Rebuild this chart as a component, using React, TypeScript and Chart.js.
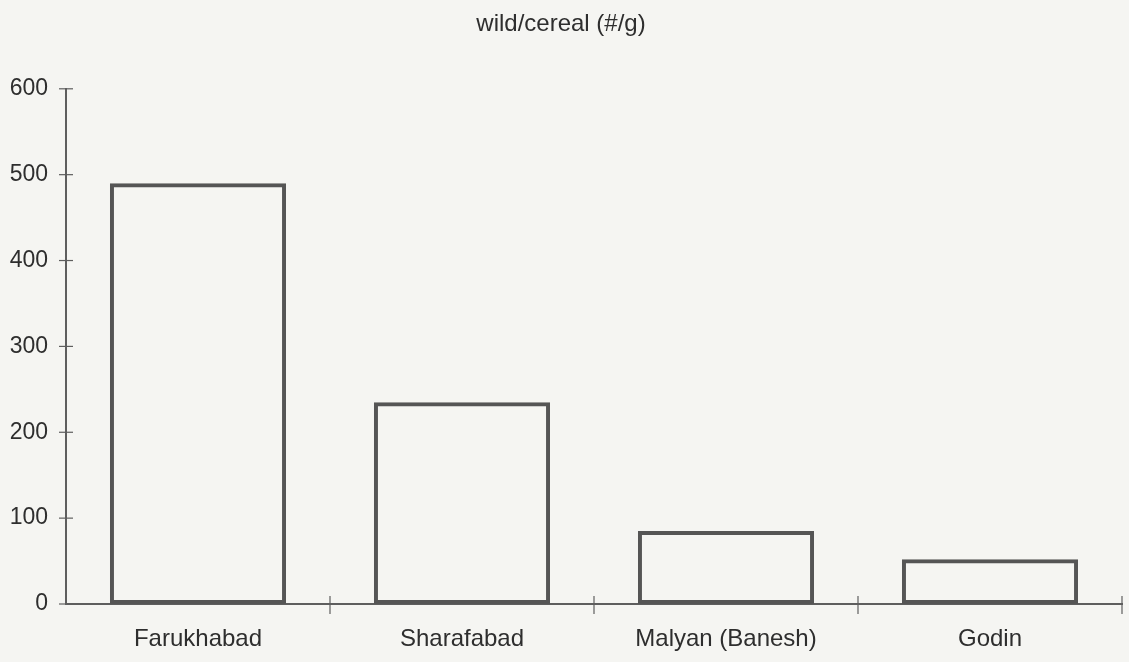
import React, { useEffect, useRef } from "react";
import { Chart, registerables } from "chart.js";

Chart.register(...registerables);

const categories = ["Farukhabad", "Sharafabad", "Malyan (Banesh)", "Godin"];
const wildPerCereal = [490, 235, 85, 52];
const yTicks = [0, 100, 200, 300, 400, 500, 600];
const titleText = "wild/cereal (#/g)";

const FONT = "'Liberation Sans', Arial, sans-serif";
const AXIS_COLOR = "#5e5e5e";
const TEXT_COLOR = "#2e2e2e";

const crossTicks = {
  id: "crossTicks",
  afterDraw(chart: any) {
    const ctx = chart.ctx;
    const y = chart.scales.y;
    const x = chart.scales.x;
    ctx.save();
    ctx.strokeStyle = AXIS_COLOR;
    ctx.lineWidth = 1.2;
    const ax = y.right;
    y.ticks.forEach((t: any) => {
      const py = y.getPixelForValue(t.value);
      ctx.beginPath();
      ctx.moveTo(ax - 7, py);
      ctx.lineTo(ax + 7, py);
      ctx.stroke();
    });
    const ay = x.top;
    for (let i = 1; i <= categories.length; i++) {
      const px = x.getPixelForValue(i - 0.5);
      ctx.beginPath();
      ctx.moveTo(px, ay - 8);
      ctx.lineTo(px, ay + 10);
      ctx.stroke();
    }
    ctx.restore();
  },
};

export default function App() {
  const ref = useRef<HTMLCanvasElement | null>(null);

  useEffect(() => {
    document.body.style.margin = "0";
    document.body.style.background = "#f5f5f2";
    if (!ref.current) return;
    const chart = new Chart(ref.current, {
      type: "bar",
      data: {
        labels: categories,
        datasets: [
          {
            data: wildPerCereal,
            backgroundColor: "rgba(0,0,0,0)",
            borderColor: "#555555",
            borderWidth: 4,
            borderSkipped: false,
            categoryPercentage: 1,
            barPercentage: 0.667,
          },
        ],
      },
      options: {
        animation: false,
        responsive: false,
        maintainAspectRatio: false,
        layout: { padding: { left: 0, right: 7, top: 0, bottom: 0 } },
        plugins: {
          legend: { display: false },
          tooltip: { enabled: false },
          title: {
            display: true,
            text: titleText,
            color: TEXT_COLOR,
            font: { family: FONT, size: 24, weight: "normal" },
            padding: { top: 10, bottom: 50 },
          },
        },
        scales: {
          x: {
            offset: true,
            grid: { display: false, offset: true },
            border: { display: true, color: AXIS_COLOR, width: 2 },
            ticks: {
              color: TEXT_COLOR,
              font: { family: FONT, size: 24 },
              padding: 13,
              maxRotation: 0,
            },
            afterFit(scale: any) {
              scale.height = 58;
            },
          },
          y: {
            min: 0,
            max: 600,
            afterBuildTicks(scale: any) {
              scale.ticks = yTicks.map((v) => ({ value: v }));
            },
            grid: { display: false },
            border: { display: true, color: AXIS_COLOR, width: 2 },
            ticks: {
              color: TEXT_COLOR,
              font: { family: FONT, size: 23 },
              padding: 10,
            },
            afterFit(scale: any) {
              scale.width = 66;
            },
          },
        },
      },
      plugins: [crossTicks],
    });
    return () => chart.destroy();
  }, []);

  return (
    <div style={{ width: 1129, height: 662, background: "#f5f5f2" }}>
      <canvas ref={ref} width={1129} height={662} style={{ display: "block" }} />
    </div>
  );
}
